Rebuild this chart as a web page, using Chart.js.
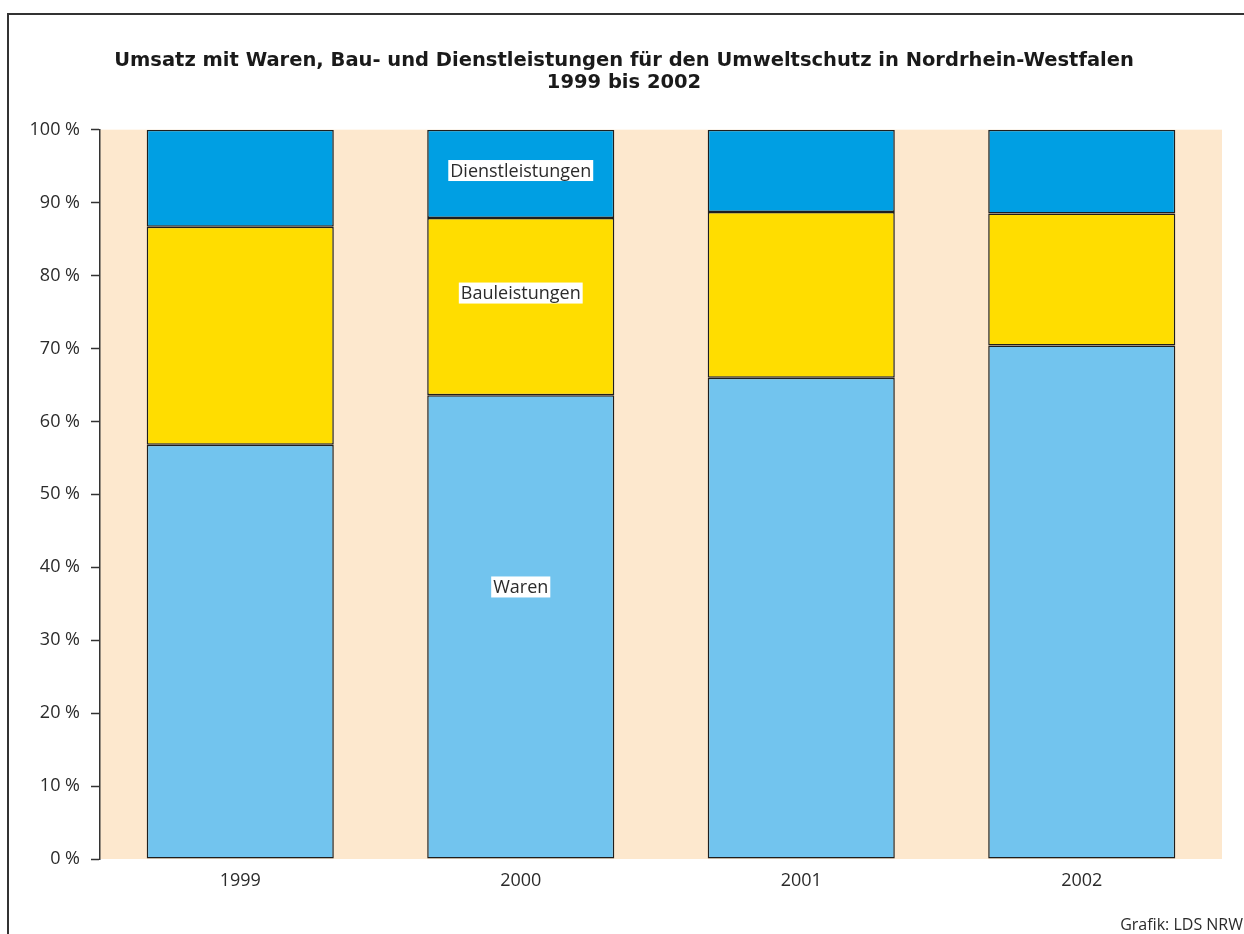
<!DOCTYPE html>
<html>
<head>
<meta charset="utf-8">
<script src="https://cdn.jsdelivr.net/npm/chart.js@4/dist/chart.umd.min.js"></script>
<style>
    html, body { margin: 0; padding: 0; background: #fff; }
    #frame {
        position: absolute; left: 7px; top: 13px; width: 1300px; height: 1000px;
        border-left: 2px solid #333; border-top: 2px solid #333;
    }
    #wrap { position: absolute; left: 0; top: 0; width: 1244px; height: 934px; }
</style>
</head>
<body>
<div id="frame"></div>
<div id="wrap"><canvas id="barChart" width="1244" height="934"></canvas></div>
<script>
    // Anteile in Prozent, je Jahr
    let years = ["1999", "2000", "2001", "2002"];
    let waren = [56.8, 63.6, 66.0, 70.4];
    let bauleistungen = [29.9, 24.3, 22.7, 18.1];
    let dienstleistungen = [13.3, 12.1, 11.3, 11.5];
    let yTicks = [0, 10, 20, 30, 40, 50, 60, 70, 80, 90, 100];

    let titleLines = [
        "Umsatz mit Waren, Bau- und Dienstleistungen für den Umweltschutz in Nordrhein-Westfalen",
        "1999 bis 2002"
    ];
    let sourceText = "Grafik: LDS NRW";

    // in-bar labels, sitting in the 2000 column
    let segmentLabels = [
        { text: "Waren", year: "2000", value: 37.3 },
        { text: "Bauleistungen", year: "2000", value: 77.6 },
        { text: "Dienstleistungen", year: "2000", value: 94.4 }
    ];

    var fontFamily = "'Open Sans', 'Noto Sans', sans-serif";
    var textColor = "#2b2b2b";

    var backgroundPlugin = {
        id: "plotBackground",
        beforeDraw: function (chart) {
            var ctx = chart.ctx;
            var a = chart.chartArea;
            ctx.save();
            ctx.fillStyle = "#fde8ce";
            ctx.fillRect(a.left, a.top, a.right - a.left, a.bottom - a.top);
            ctx.restore();
        },
        afterDraw: function (chart) {
            var ctx = chart.ctx;
            var x = chart.scales.x;
            var y = chart.scales.y;
            ctx.save();
            ctx.font = "18px " + fontFamily;
            ctx.textAlign = "center";
            ctx.textBaseline = "middle";
            segmentLabels.forEach(function (lab) {
                var cx = x.getPixelForValue(years.indexOf(lab.year));
                var cy = y.getPixelForValue(lab.value);
                var w = ctx.measureText(lab.text).width;
                ctx.fillStyle = "#ffffff";
                ctx.fillRect(cx - w / 2 - 2, cy - 10.5, w + 4, 21);
                ctx.fillStyle = textColor;
                ctx.fillText(lab.text, cx, cy + 1);
            });
            ctx.font = "16px " + fontFamily;
            ctx.textAlign = "right";
            ctx.textBaseline = "alphabetic";
            ctx.fillText(sourceText, 1243, 930);
            ctx.restore();
        }
    };

    var canvas = document.getElementById("barChart");
    var ctx = canvas.getContext("2d");
    canvas.chart = new Chart(ctx, {
        type: "bar",
        data: {
            labels: years,
            datasets: [
                {
                    label: "Waren",
                    backgroundColor: "#72c4ee",
                    data: waren,
                },
                {
                    label: "Bauleistungen",
                    backgroundColor: "#ffdd00",
                    data: bauleistungen,
                },
                {
                    label: "Dienstleistungen",
                    backgroundColor: "#009fe3",
                    data: dienstleistungen,
                },
            ],
        },
        options: {
            responsive: false,
            animation: false,
            layout: { padding: { left: 26, right: 22, top: 0, bottom: 0 } },
            datasets: {
                bar: {
                    borderColor: "#1e1e1e",
                    borderWidth: 1.5,
                    borderSkipped: false,
                    barPercentage: 1,
                    categoryPercentage: 0.667,
                },
            },
            scales: {
                x: {
                    stacked: true,
                    border: { display: false },
                    grid: { display: false },
                    ticks: {
                        color: textColor,
                        font: { family: fontFamily, size: 18 },
                        padding: 3,
                    },
                    afterFit: function (scale) { scale.height = 75; },
                },
                y: {
                    stacked: true,
                    min: 0,
                    max: 100,
                    border: { display: true, color: "#333333", width: 1.5 },
                    grid: {
                        drawOnChartArea: false,
                        drawTicks: true,
                        tickLength: 9,
                        tickColor: "#333333",
                        tickWidth: 1.5,
                    },
                    afterBuildTicks: function (scale) {
                        scale.ticks = yTicks.map(function (v) { return { value: v }; });
                    },
                    ticks: {
                        color: textColor,
                        font: { family: fontFamily, size: 18 },
                        padding: 11,
                        callback: function (v) { return v + " %"; },
                    },
                    afterFit: function (scale) { scale.width = 74; },
                },
            },
            plugins: {
                legend: { display: false },
                tooltip: { enabled: false },
                title: {
                    display: true,
                    text: titleLines,
                    color: "#1a1a1a",
                    font: { family: "'DejaVu Sans', sans-serif", size: 19.5, weight: "bold", lineHeight: 1.12 },
                    padding: { top: 50, bottom: 36 },
                },
            },
        },
        plugins: [backgroundPlugin],
    });
</script>
</body>
</html>
